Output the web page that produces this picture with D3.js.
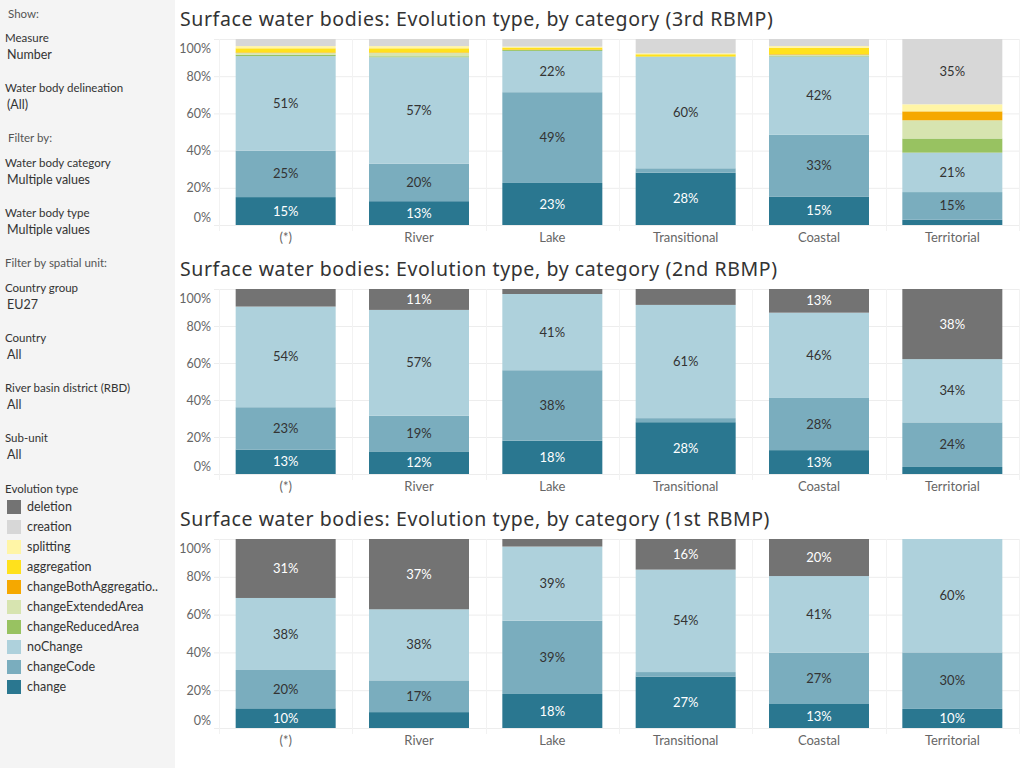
<!DOCTYPE html>
<html>
<head>
<meta charset="utf-8">
<script src="https://cdn.jsdelivr.net/npm/d3@7"></script>
<style>
	body { margin: 0; background: #fff; }
	svg { font-family: Lato, "Noto Sans", sans-serif; display: block; }
</style>
</head>
<body>
<div id="chart-area"></div>
<script>
// Data
const categories = ['(*)', 'River', 'Lake', 'Transitional', 'Coastal', 'Territorial']
const evolutionTypes = ['deletion', 'creation', 'splitting', 'aggregation', 'changeBothAggregation',
	'changeExtendedArea', 'changeReducedArea', 'noChange', 'changeCode', 'change']
const typeColors = ['#737373', '#d7d7d7', '#fff5a6', '#ffe11c', '#f5a800',
	'#d7e4b0', '#98c261', '#aed1dc', '#7aadbe', '#2a7790']
const legendLabels = ['deletion', 'creation', 'splitting', 'aggregation', 'changeBothAggregatio..',
	'changeExtendedArea', 'changeReducedArea', 'noChange', 'changeCode', 'change']
const yTicks = [0, 20, 40, 60, 80, 100]

// % of water bodies, one row per category, columns in evolutionTypes order
const rbmp3 = [
	[0, 3.8, 1.2, 2.2, 0.3, 1.0, 0.7, 50.9, 24.9, 15.0],
	[0, 3.8, 1.2, 2.2, 0.3, 1.8, 0.5, 57.2, 20.2, 12.8],
	[0, 4.1, 0.5, 1.0, 0.3, 0, 0.5, 22.2, 48.8, 22.6],
	[0, 7.7, 0.5, 1.2, 0, 0, 0.2, 59.9, 2.4, 28.1],
	[0, 3.8, 0.9, 3.4, 0.3, 0.5, 0.5, 42.1, 33.2, 15.3],
	[0, 35.1, 3.8, 0, 4.8, 9.8, 7.6, 21.2, 14.9, 2.8]
]
const rbmp2 = [
	[9.5, 0, 0, 0, 0, 0, 0, 54.4, 22.9, 13.2],
	[11.3, 0, 0, 0, 0, 0, 0, 57.2, 19.3, 12.2],
	[2.7, 0, 0, 0, 0, 0, 0, 41.2, 38.1, 18.0],
	[8.6, 0, 0, 0, 0, 0, 0, 61.2, 2.2, 28.0],
	[12.8, 0, 0, 0, 0, 0, 0, 46.1, 28.2, 12.9],
	[37.9, 0, 0, 0, 0, 0, 0, 34.2, 24.1, 3.8]
]
const rbmp1 = [
	[31.2, 0, 0, 0, 0, 0, 0, 38.1, 20.3, 10.4],
	[37.2, 0, 0, 0, 0, 0, 0, 37.6, 16.8, 8.4],
	[4.0, 0, 0, 0, 0, 0, 0, 39.2, 38.8, 18.0],
	[16.2, 0, 0, 0, 0, 0, 0, 54.2, 2.4, 27.2],
	[19.6, 0, 0, 0, 0, 0, 0, 40.6, 27.1, 12.7],
	[0, 0, 0, 0, 0, 0, 0, 60.0, 29.9, 10.1]
]

const panels = [
	{ title: 'Surface water bodies: Evolution type, by category (3rd RBMP)', rows: rbmp3, top: 39, height: 186 },
	{ title: 'Surface water bodies: Evolution type, by category (2nd RBMP)', rows: rbmp2, top: 289, height: 185 },
	{ title: 'Surface water bodies: Evolution type, by category (1st RBMP)', rows: rbmp1, top: 539, height: 189 }
]

// Sizing
const WIDTH = 1024
const HEIGHT = 768
const SIDEBAR = 175
const PLOT_LEFT = 219
const PLOT_RIGHT = 1019

const svg = d3.select('#chart-area').append('svg')
	.attr('width', WIDTH)
	.attr('height', HEIGHT)

// Sidebar
svg.append('rect')
	.attr('width', SIDEBAR)
	.attr('height', HEIGHT)
	.attr('fill', '#f4f4f4')

const sideItems = [
	{ t: 'Show:', x: 8, y: 14, c: '#555' },
	{ t: 'Measure', x: 5, y: 38 },
	{ t: 'Number', x: 7, y: 55, big: true },
	{ t: 'Water body delineation', x: 5, y: 88 },
	{ t: '(All)', x: 7, y: 105, big: true },
	{ t: 'Filter by:', x: 8, y: 138, c: '#555' },
	{ t: 'Water body category', x: 5, y: 163 },
	{ t: 'Multiple values', x: 7, y: 180, big: true },
	{ t: 'Water body type', x: 5, y: 213 },
	{ t: 'Multiple values', x: 7, y: 230, big: true },
	{ t: 'Filter by spatial unit:', x: 5, y: 263, c: '#555' },
	{ t: 'Country group', x: 5, y: 288 },
	{ t: 'EU27', x: 7, y: 305, big: true },
	{ t: 'Country', x: 5, y: 338 },
	{ t: 'All', x: 7, y: 355, big: true },
	{ t: 'River basin district (RBD)', x: 5, y: 388 },
	{ t: 'All', x: 7, y: 405, big: true },
	{ t: 'Sub-unit', x: 5, y: 438 },
	{ t: 'All', x: 7, y: 455, big: true },
	{ t: 'Evolution type', x: 5, y: 489 }
]
svg.append('g').selectAll('text')
	.data(sideItems)
	.enter().append('text')
	.attr('x', d => d.x)
	.attr('y', d => d.y)
	.attr('dy', '0.35em')
	.attr('font-size', d => d.big ? '12.5px' : '11.5px')
	.attr('fill', d => d.c || '#333')
	.text(d => d.t)

// Legend
const legend = svg.append('g').attr('transform', 'translate(7, 500)')
const legendItems = legend.selectAll('g')
	.data(evolutionTypes)
	.enter().append('g')
	.attr('transform', (d, i) => `translate(0, ${i * 20})`)
legendItems.append('rect')
	.attr('width', 14)
	.attr('height', 14)
	.attr('fill', (d, i) => typeColors[i])
legendItems.append('text')
	.attr('x', 20)
	.attr('y', 7)
	.attr('dy', '0.35em')
	.attr('font-size', '12.5px')
	.attr('fill', '#333')
	.text((d, i) => legendLabels[i])

// Scales
const x = d3.scaleBand()
	.domain(categories)
	.range([PLOT_LEFT, PLOT_RIGHT])
	.paddingInner(0.25)
	.paddingOuter(0.125)

const color = d3.scaleOrdinal()
	.domain(evolutionTypes)
	.range(typeColors)

const stackKeys = evolutionTypes.slice().reverse()
const stack = d3.stack().keys(stackKeys)

panels.forEach(p => {
	const g = svg.append('g')
	const bottom = p.top + p.height
	const y = d3.scaleLinear()
		.domain([0, 100])
		.range([bottom, p.top])

	// title
	g.append('text')
		.attr('x', 180)
		.attr('y', p.top - 20)
		.attr('dy', '0.35em')
		.attr('font-family', '"Noto Sans", sans-serif')
		.attr('font-size', '19.5px')
		.attr('letter-spacing', '0.6px')
		.attr('fill', '#333')
		.text(p.title)

	// grid
	g.append('g').selectAll('line')
		.data(yTicks)
		.enter().append('line')
		.attr('x1', 214)
		.attr('x2', PLOT_RIGHT)
		.attr('y1', d => y(d) + 0.5)
		.attr('y2', d => y(d) + 0.5)
		.attr('stroke', '#ededed')

	const bounds = d3.range(categories.length + 1).map(i => PLOT_LEFT + i * x.step())
	g.append('g').selectAll('line')
		.data(bounds)
		.enter().append('line')
		.attr('x1', d => Math.round(d) + 0.5)
		.attr('x2', d => Math.round(d) + 0.5)
		.attr('y1', p.top)
		.attr('y2', bottom + 6)
		.attr('stroke', '#f2f2f2')

	// y axis
	const yAxisCall = d3.axisLeft(y)
		.tickValues(yTicks)
		.tickFormat(d => d + '%')
		.tickSize(0)
		.tickPadding(5)
	const yAxisGroup = g.append('g')
		.attr('transform', 'translate(216, 0)')
		.call(yAxisCall)
	yAxisGroup.select('.domain').remove()
	yAxisGroup.selectAll('text')
		.attr('font-family', 'Lato, "Noto Sans", sans-serif')
		.attr('font-size', '12.5px')
		.attr('fill', '#666')
		.attr('transform', d => d === 100 ? 'translate(0, 9)' : d === 0 ? 'translate(0, -8)' : null)

	// x axis
	const xAxisCall = d3.axisBottom(x)
		.tickSize(0)
		.tickPadding(8)
	const xAxisGroup = g.append('g')
		.attr('transform', `translate(0, ${bottom})`)
		.call(xAxisCall)
	xAxisGroup.select('.domain').remove()
	xAxisGroup.selectAll('text')
		.attr('font-family', 'Lato, "Noto Sans", sans-serif')
		.attr('font-size', '13px')
		.attr('fill', '#666')

	// bars
	const data = p.rows.map((r, i) => {
		const o = { category: categories[i] }
		evolutionTypes.forEach((t, j) => { o[t] = r[j] })
		return o
	})
	const series = stack(data)

	const layers = g.append('g').selectAll('g')
		.data(series)
		.enter().append('g')
		.attr('fill', d => color(d.key))

	layers.selectAll('rect')
		.data(d => d.map(v => ({ key: d.key, v })))
		.enter().append('rect')
		.attr('x', d => x(d.v.data.category))
		.attr('width', x.bandwidth())
		.attr('y', d => y(d.v[1]))
		.attr('height', d => y(d.v[0]) - y(d.v[1]))

	layers.selectAll('text')
		.data(d => d.map(v => ({ key: d.key, v })).filter(d => d.v[1] - d.v[0] >= 10))
		.enter().append('text')
		.attr('x', d => x(d.v.data.category) + x.bandwidth() / 2)
		.attr('y', d => y((d.v[0] + d.v[1]) / 2))
		.attr('dy', '0.35em')
		.attr('text-anchor', 'middle')
		.attr('font-size', '13px')
		.attr('fill', d => (d.key === 'change' || d.key === 'deletion') ? '#fff' : '#333')
		.text(d => Math.round(d.v[1] - d.v[0]) + '%')
})
</script>
</body>
</html>
